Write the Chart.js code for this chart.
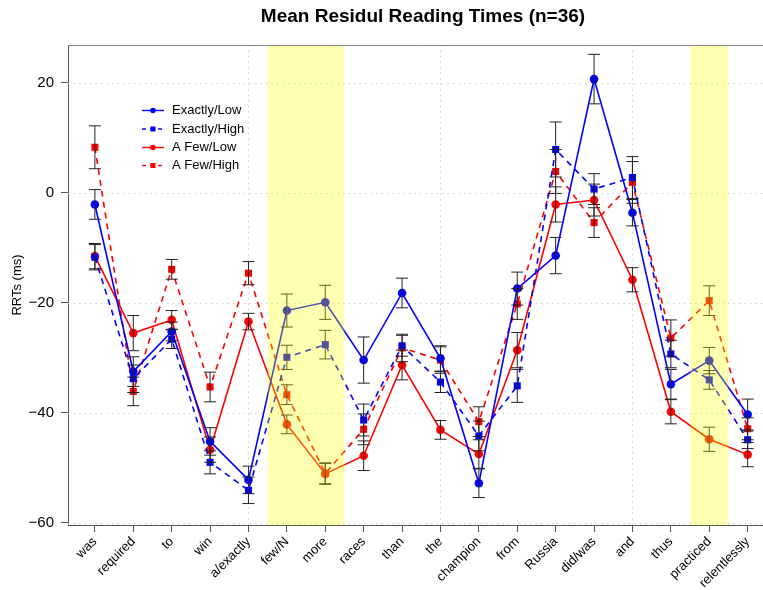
<!DOCTYPE html>
<html>
<head>
<meta charset="utf-8">
<script src="https://cdn.jsdelivr.net/npm/chart.js@4.4.1/dist/chart.umd.min.js"></script>
<style>
html,body{margin:0;padding:0;background:#fff;}
#wrap{width:763px;height:590px;position:relative;}
</style>
</head>
<body>
<div id="wrap"><canvas id="c" width="763" height="590"></canvas></div>
<script>
const categories = ["was","required","to","win","a/exactly","few/N","more","races","than","the","champion","from","Russia","did/was","and","thus","practiced","relentlessly"];

const exactlyLow  = [-2.1, -32.5, -25.2, -45.2, -52.2, -21.4, -19.9, -30.4, -18.2, -30.1, -52.8, -17.4, -11.4, 20.7, -3.6, -34.8, -30.5, -40.3];
const exactlyHigh = [-11.7, -33.8, -26.6, -49.0, -54.1, -29.9, -27.6, -41.3, -27.8, -34.4, -44.2, -35.1, 7.9, 0.7, 2.8, -29.3, -34.0, -44.9];
const aFewLow     = [-11.5, -25.5, -23.1, -46.7, -23.4, -42.1, -51.1, -47.8, -31.3, -43.1, -47.5, -28.6, -2.1, -1.3, -15.8, -39.8, -44.8, -47.6];
const aFewHigh    = [8.3, -36.1, -13.9, -35.3, -14.6, -36.7, -51.0, -43.0, -28.2, -30.4, -41.6, -20.2, 3.9, -5.4, 1.9, -26.4, -19.6, -42.9];

const exactlyLowErr  = [2.7, 2.7, 1.7, 2.5, 2.5, 3.0, 3.1, 4.2, 2.7, 2.3, 2.6, 3.0, 3.3, 4.5, 2.4, 2.7, 2.4, 2.8];
const exactlyHighErr = [2.3, 2.5, 1.7, 2.1, 2.4, 2.2, 2.6, 2.9, 1.9, 1.9, 2.7, 3.0, 5.0, 2.8, 3.8, 2.5, 1.7, 1.6];
const aFewLowErr     = [2.3, 3.2, 1.7, 2.3, 1.5, 1.7, 1.9, 2.7, 2.7, 1.7, 2.6, 3.2, 3.2, 2.9, 2.2, 2.2, 2.2, 2.2];
const aFewHighErr    = [3.9, 2.6, 1.8, 2.7, 2.1, 1.8, 1.9, 2.8, 2.5, 2.4, 2.7, 2.8, 4.0, 2.7, 3.8, 3.3, 2.7, 2.0];

const yTicks = [-60, -40, -20, 0, 20];
const xGridAt = [5, 10, 15];
const bands = [[5.5, 7.5], [16.5, 17.5]];
const titleText = 'Mean Residul Reading Times (n=36)';

const FONT = "'Liberation Sans', Arial, Helvetica, sans-serif";

function pts(arr){ return arr.map((v,i)=>({x:i+1, y:v})); }

const seriesDefs = [
  {label:"Exactly/Low",  data:exactlyLow,  err:exactlyLowErr,  color:"#0000FF", dash:[], style:"circle", r:4.3},
  {label:"Exactly/High", data:exactlyHigh, err:exactlyHighErr, color:"#0000FF", dash:[6,5], style:"rect", r:5},
  {label:"A Few/Low",    data:aFewLow,     err:aFewLowErr,     color:"#FF0000", dash:[], style:"circle", r:4.3},
  {label:"A Few/High",   data:aFewHigh,    err:aFewHighErr,    color:"#FF0000", dash:[6,5], style:"rect", r:5}
];

const datasets = seriesDefs.map(s=>({
  label:s.label,
  data:pts(s.data),
  errors:s.err,
  borderColor:s.color,
  backgroundColor:s.color,
  borderWidth:1.6,
  borderDash:s.dash,
  pointStyle:s.style,
  pointRadius:s.r,
  pointBorderWidth:0,
  pointBackgroundColor:s.color,
  tension:0,
  clip:false
}));

const decor = {
  id:'decor',
  beforeDatasetsDraw(chart){
    const {ctx, chartArea:a, scales:{x,y}} = chart;
    ctx.save();
    ctx.strokeStyle = '#cfcfcf';
    ctx.lineWidth = 1;
    ctx.setLineDash([1.5,4]);
    yTicks.forEach(v=>{
      const py = Math.round(y.getPixelForValue(v))+0.5;
      ctx.beginPath(); ctx.moveTo(a.left, py); ctx.lineTo(a.right, py); ctx.stroke();
    });
    xGridAt.forEach(v=>{
      const px = Math.round(x.getPixelForValue(v))+0.5;
      ctx.beginPath(); ctx.moveTo(px, a.top); ctx.lineTo(px, a.bottom); ctx.stroke();
    });
    ctx.restore();
  },
  afterDatasetsDraw(chart){
    const {ctx, chartArea:a, scales:{x,y}} = chart;
    ctx.save();
    // error bars
    ctx.strokeStyle = '#222';
    ctx.lineWidth = 1;
    ctx.setLineDash([]);
    chart.data.datasets.forEach(ds=>{
      ds.data.forEach((p,i)=>{
        const e = ds.errors[i];
        const px = x.getPixelForValue(p.x);
        const y1 = y.getPixelForValue(p.y + e);
        const y2 = y.getPixelForValue(p.y - e);
        ctx.beginPath();
        ctx.moveTo(px, y1); ctx.lineTo(px, y2);
        ctx.moveTo(px-6, y1); ctx.lineTo(px+6, y1);
        ctx.moveTo(px-6, y2); ctx.lineTo(px+6, y2);
        ctx.stroke();
      });
    });
    // highlight bands on top
    ctx.fillStyle = 'rgba(255,255,0,0.31)';
    bands.forEach(b=>{
      const x1 = x.getPixelForValue(b[0]);
      const x2 = x.getPixelForValue(b[1]);
      ctx.fillRect(x1, a.top, x2-x1, a.bottom-a.top);
    });
    // top border
    ctx.strokeStyle = '#888';
    ctx.lineWidth = 1;
    ctx.beginPath();
    ctx.moveTo(a.left+0.5, a.top+0.5); ctx.lineTo(a.right+2, a.top+0.5);
    ctx.stroke();
    // legend
    ctx.font = "13px " + FONT;
    ctx.textBaseline = 'middle';
    ctx.textAlign = 'left';
    const lx = 142, rows = [110.5, 129, 147.5, 165.5];
    seriesDefs.forEach((s,i)=>{
      const ly = rows[i];
      ctx.strokeStyle = s.color;
      ctx.fillStyle = s.color;
      ctx.lineWidth = 1.4;
      ctx.setLineDash(s.dash.length ? [4,4] : []);
      ctx.beginPath(); ctx.moveTo(lx, ly); ctx.lineTo(lx+22, ly); ctx.stroke();
      ctx.setLineDash([]);
      if (s.style === 'circle') { ctx.beginPath(); ctx.arc(lx+11, ly, 2.8, 0, Math.PI*2); ctx.fill(); }
      else { ctx.fillRect(lx+8.5, ly-2.5, 5, 5); }
      ctx.fillStyle = '#000';
      ctx.fillText(s.label, 172, ly);
    });
    // title
    ctx.font = "bold 19px " + FONT;
    ctx.textAlign = 'center';
    ctx.textBaseline = 'middle';
    ctx.fillStyle = '#000';
    ctx.fillText(titleText, 423, 17);
    ctx.restore();
  }
};

new Chart(document.getElementById('c'), {
  type:'line',
  data:{datasets},
  plugins:[decor],
  options:{
    responsive:false,
    animation:false,
    devicePixelRatio:1,
    layout:{autoPadding:false, padding:{left:0, right:0, top:45, bottom:0}},
    plugins:{
      legend:{display:false},
      tooltip:{enabled:false},
      title:{display:false}
    },
    scales:{
      x:{
        type:'linear',
        min:0.3, max:18.4,
        afterBuildTicks(scale){ scale.ticks = categories.map((c,i)=>({value:i+1})); },
        afterFit(scale){ scale.height = 65; scale.paddingRight = 0; scale.paddingLeft = 0; },
        ticks:{
          autoSkip:false,
          maxRotation:45, minRotation:45,
          color:'#000',
          font:{family:FONT, size:13},
          padding:2,
          callback:(v)=>categories[v-1]
        },
        grid:{drawOnChartArea:false, drawTicks:true, tickLength:7, tickColor:'#555', color:'#555'},
        border:{display:true, color:'#555', width:1}
      },
      y:{
        type:'linear',
        min:-60.4, max:26.9,
        afterBuildTicks(scale){ scale.ticks = yTicks.map(v=>({value:v})); },
        afterFit(scale){ scale.width = 68; scale.paddingTop = 0; scale.paddingBottom = 0; },
        ticks:{color:'#000', font:{family:FONT, size:15}, padding:7,
          callback:(v)=> (v < 0 ? '\u2212' + Math.abs(v) : String(v))},
        grid:{drawOnChartArea:false, drawTicks:true, tickLength:7, tickColor:'#555', color:'#555'},
        border:{display:true, color:'#555', width:1},
        title:{display:true, text:'RRTs (ms)', color:'#000', font:{family:FONT, size:13}, padding:{top:10, bottom:0}}
      }
    }
  }
});
</script>
</body>
</html>
